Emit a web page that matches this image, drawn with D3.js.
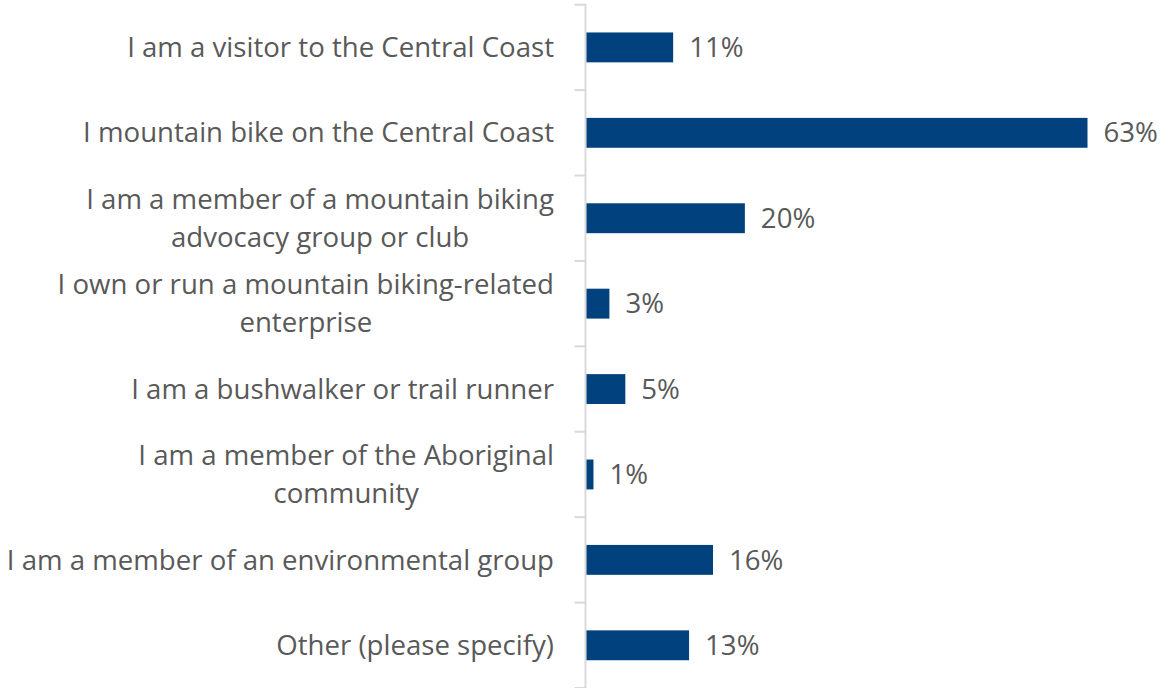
<!DOCTYPE html>
<html>
<head>
<meta charset="utf-8">
<script src="https://cdn.jsdelivr.net/npm/d3@7"></script>
<style>
  html, body { margin: 0; padding: 0; background: #fff; }
  svg text { font-family: "Open Sans", "Segoe UI", sans-serif; fill: #595959; }
</style>
</head>
<body>
<svg id="chart" width="1161" height="688"></svg>
<script>
// Survey responses: how respondents relate to mountain biking on the Central Coast
const categories = [
  "I am a visitor to the Central Coast",
  "I mountain bike on the Central Coast",
  "I am a member of a mountain biking\nadvocacy group or club",
  "I own or run a mountain biking-related\nenterprise",
  "I am a bushwalker or trail runner",
  "I am a member of the Aboriginal\ncommunity",
  "I am a member of an environmental group",
  "Other (please specify)"
];
const values = [11, 63, 20, 3, 5, 1, 16, 13];
const valueLabels = ["11%", "63%", "20%", "3%", "5%", "1%", "16%", "13%"];

const svg = d3.select("#chart");
const axisX = 585.5, plotTop = 4.7, plotBottom = 688;
const fontSize = 27.6;

const y = d3.scaleBand()
  .domain(categories)
  .range([plotTop, plotBottom])
  .paddingInner(0.65)
  .paddingOuter(0.325);

const x = d3.scaleLinear()
  .domain([0, 63])
  .range([axisX, 1087.5]);

// category boundary ticks and axis line
const step = y.step();
const bounds = d3.range(categories.length + 1).map(i => plotTop + i * step);
svg.append("g").selectAll("line.tick")
  .data(bounds)
  .join("line")
  .attr("x1", axisX - 11).attr("x2", axisX)
  .attr("y1", d => d).attr("y2", d => d)
  .attr("stroke", "#d9d9d9").attr("stroke-width", 2);
svg.append("line")
  .attr("x1", axisX).attr("x2", axisX)
  .attr("y1", plotTop - 1).attr("y2", plotBottom)
  .attr("stroke", "#d9d9d9").attr("stroke-width", 2);

// bars
svg.append("g").selectAll("rect")
  .data(values)
  .join("rect")
  .attr("x", x(0) + 1)
  .attr("y", (d, i) => y(categories[i]))
  .attr("width", d => x(d) - x(0) - 1)
  .attr("height", y.bandwidth())
  .attr("fill", "#00417e");

// value labels
svg.append("g").selectAll("text")
  .data(values)
  .join("text")
  .attr("x", d => x(d) + 16)
  .attr("y", (d, i) => y(categories[i]) + y.bandwidth() / 2)
  .attr("dy", "0.35em")
  .attr("font-size", fontSize)
  .text((d, i) => valueLabels[i]);

// category labels, wrapped lines centred within a right-aligned block
const lineH = 38;
const labelRight = 554;
categories.forEach(c => {
  const lines = c.split("\n");
  const cy = y(c) + y.bandwidth() / 2;
  const g = svg.append("g");
  const texts = lines.map((ln, j) => g.append("text")
    .attr("font-size", fontSize)
    .attr("dy", "0.35em")
    .attr("y", cy + (j - (lines.length - 1) / 2) * lineH)
    .text(ln));
  const widths = texts.map(t => t.node().getComputedTextLength());
  const w = d3.max(widths);
  texts.forEach(t => t.attr("x", labelRight - w / 2).attr("text-anchor", "middle"));
});
</script>
</body>
</html>
